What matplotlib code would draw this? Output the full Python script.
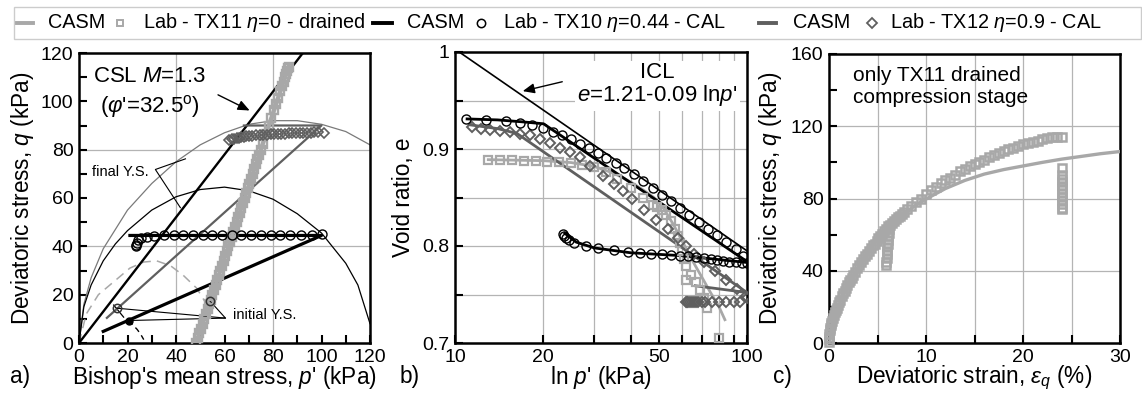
import matplotlib
matplotlib.use('Agg')
import matplotlib.pyplot as plt
from matplotlib.lines import Line2D
from matplotlib.patches import Rectangle
from matplotlib.ticker import MultipleLocator, NullFormatter

plt.rcParams['font.family'] = ['Liberation Sans', 'DejaVu Sans']
plt.rcParams['mathtext.fontset'] = 'custom'
plt.rcParams['mathtext.rm'] = 'Liberation Sans'
plt.rcParams['mathtext.it'] = 'Liberation Sans:italic'
plt.rcParams['mathtext.sf'] = 'Liberation Sans'

# ---------------- colours ----------------
C11 = '#a8a8a8'   # TX11 light grey
C10 = '#000000'   # TX10 black
C12 = '#5f5f5f'   # TX12 dark grey
CGRID = '#b4b4b4'

# ---------------- panel a data (p', q) ----------------
csl_p = [0, 100]
csl_q = [0, 130]

fys_big_p = [0, 2, 5, 10, 15, 20, 30, 40, 50, 60, 70, 80, 90, 100, 110, 120]
fys_big_q = [0, 16, 27, 39, 47, 55, 66, 75, 82, 87, 90.5, 92, 92, 90.5, 87.5, 82]

fys_small_p = [0, 2, 5, 10, 15, 20, 30, 40, 50, 60, 70, 80, 90, 100, 110, 115, 120]
fys_small_q = [0, 15, 24, 34, 41, 46.5, 55, 60.5, 63.5, 64.5, 63, 59.5, 53.5, 45.5, 33, 24, 8]

iys11_p = [0, 3, 8, 15.7, 21, 26.7, 32, 37.7, 43, 48.6, 52, 54]
iys11_q = [0, 12, 20, 26.5, 31, 33.5, 34, 32, 28, 22.6, 17, 12]

iys10_p = [20.5, 22, 24, 25.5, 26.7]
iys10_q = [9.3, 7.7, 5.6, 3.5, 1.4]

iys12_p = [14.3, 18.4]
iys12_q = [15.7, 10.7]

# CASM paths
casm11_p = [48.3, 86.4]
casm11_q = [0, 114.3]
casm10_p = [10, 100, 100, 21]
casm10_q = [4.8, 44.5, 44.5, 44.5]
casm12_p = [11.5, 100, 100, 68]
casm12_q = [10.4, 90, 90, 90]

# Lab TX11 (drained compression)
lab11a_p = [48.3, 49.0, 49.6, 50.3, 51.0, 51.6, 52.3, 53.0, 53.6, 54.3, 55.0, 55.6, 56.3,
            57.0, 57.6, 58.3, 59.0, 59.6, 60.3, 61.0, 61.6, 62.3, 63.0, 63.6, 64.3, 65.0,
            65.6, 66.3, 67.0, 67.6, 68.3, 69.0, 69.6, 70.3, 71.0, 71.6, 72.3, 73.0, 73.6,
            74.3, 75.0, 75.8, 77.1, 78.3, 79.3, 80.5, 81.3, 82.1, 83.0, 83.7, 84.4, 85.0,
            85.4, 85.9, 86.2, 86.4]
lab11a_q = [0, 2, 4, 6, 8, 10, 12, 14, 16, 18, 20, 22, 24, 26, 28, 30, 32, 34, 36, 38, 40,
            42, 44, 46, 48, 50, 52, 54, 56, 58, 60, 62, 64, 66, 68, 70, 72, 74, 76, 78, 80,
            82.5, 86.5, 90, 93, 96.5, 99, 101.5, 104.2, 106.3, 108.2, 110, 111.4, 112.7,
            113.8, 114.3]

# Lab TX10 (CAL stage)
lab10a_p = [100, 96, 91.5, 87, 83, 79, 75, 71, 67, 63, 59, 55, 51, 47, 43, 39, 35, 31,
            28, 25.5, 24.5, 24, 23.7, 23.5]
lab10a_q = [45, 44.5, 44.5, 44.5, 44.5, 44.5, 44.5, 44.5, 44.5, 44.5, 44.5, 44.5, 44.5,
            44.5, 44.5, 44.5, 44.5, 44.3, 44, 43.5, 42.5, 41.5, 40.7, 40]

# Lab TX12 (CAL stage)
lab12a_p = [62, 63, 64, 65, 66, 67, 68, 69, 70, 71.5, 73, 74.5, 76, 77.5, 79, 80.5, 82,
            83.5, 85, 86.5, 88, 89.5, 91, 92.5, 94, 95.5, 97, 98.5, 101]
lab12a_q = [84, 84.3, 84.6, 84.8, 85, 85.2, 85.4, 85.5, 85.6, 85.8, 86, 86, 86.1, 86.2,
            86.3, 86.4, 86.5, 86.5, 86.6, 86.7, 86.7, 86.8, 86.9, 87, 87, 87.1, 87.2, 87.2, 87]

init_pts_p = [15.6, 54]
init_pts_q = [14.4, 17.4]
init_fill_p = [20.5]
init_fill_q = [9.3]

# ---------------- panel b data (p', e) ----------------
icl_p = [10, 100]
icl_e = [1.003, 0.795]

casm10b_load_p = [11, 14, 17, 20.1, 100]
casm10b_load_e = [0.931, 0.930, 0.928, 0.926, 0.784]
casm10b_cal_p = [100, 80, 60, 40, 30, 26, 23.8]
casm10b_cal_e = [0.783, 0.786, 0.790, 0.793, 0.798, 0.804, 0.813]

casm12b_load_p = [11.2, 14, 16.3, 100]
casm12b_load_e = [0.925, 0.921, 0.916, 0.752]
casm12b_cal_p = [100, 66.5]
casm12b_cal_e = [0.752, 0.759]

casm11b_p = [13, 20, 25, 30, 35, 40, 45, 48, 52, 56, 60, 65, 70, 75, 80, 84]
casm11b_e = [0.889, 0.888, 0.886, 0.882, 0.875, 0.866, 0.856, 0.850, 0.838, 0.822,
             0.805, 0.785, 0.768, 0.752, 0.738, 0.724]

lab10b_load_p = [10.9, 12.8, 14.9, 16.7, 18.3, 20, 21.7, 23.3, 25, 26.8, 28.7, 30.8, 33,
                 35.5, 38, 41, 44, 47.5, 51, 55, 59, 63.5, 68.5, 73.5, 79, 85, 91.5, 97]
lab10b_load_e = [0.931, 0.930, 0.929, 0.927, 0.925, 0.922, 0.918, 0.914, 0.910, 0.905,
                 0.901, 0.896, 0.891, 0.886, 0.880, 0.874, 0.867, 0.860, 0.853, 0.846,
                 0.839, 0.832, 0.825, 0.818, 0.811, 0.804, 0.797, 0.790]
lab10b_cal_p = lab10a_p
lab10b_cal_e = [0.782, 0.782, 0.783, 0.784, 0.785, 0.786, 0.787, 0.788, 0.789, 0.790,
                0.790, 0.791, 0.792, 0.792, 0.793, 0.794, 0.796, 0.798, 0.800, 0.803,
                0.806, 0.808, 0.810, 0.812]

lab12b_load_p = [11.4, 12.3, 13.2, 14.3, 15.4, 16.7, 18.0, 19.5, 21.2, 22.9, 24.8, 26.8,
                 29.0, 32.2, 34.9, 37.5, 40.5, 44.5, 48.9, 53.8, 58, 62, 66, 71, 78, 84.5,
                 92.3, 99]
lab12b_load_e = [0.923, 0.921, 0.920, 0.919, 0.918, 0.915, 0.914, 0.910, 0.906, 0.901,
                 0.897, 0.892, 0.882, 0.872, 0.864, 0.857, 0.848, 0.837, 0.827, 0.818,
                 0.808, 0.800, 0.792, 0.784, 0.774, 0.765, 0.756, 0.748]
lab12b_cal_p = [100, 95, 90, 85, 80, 76, 72, 70, 68, 67, 66, 65, 64, 63, 62.5, 62]
lab12b_cal_e = [0.746, 0.742, 0.742, 0.742, 0.742, 0.742, 0.742, 0.742, 0.742, 0.742,
                0.742, 0.742, 0.742, 0.742, 0.742, 0.742]

lab11b_p = [13, 14.3, 15.7, 17.2, 18.9, 20.7, 22.7, 24.9, 27.3, 30, 33, 36, 40, 44, 47.5,
            49, 51, 53, 55, 56.5, 58, 59, 60, 61, 62, 62, 64.5, 67, 69, 71, 73, 80]
lab11b_e = [0.889, 0.889, 0.889, 0.888, 0.888, 0.887, 0.887, 0.886, 0.884, 0.881, 0.876,
            0.869, 0.860, 0.850, 0.842, 0.840, 0.837, 0.832, 0.826, 0.818, 0.810, 0.803,
            0.795, 0.787, 0.779, 0.765, 0.770, 0.763, 0.755, 0.746, 0.736, 0.705]

# ---------------- panel c data (eps_q, q) ----------------
casm_c_eps = [0, 0.3, 0.8, 1.5, 2.5, 3.5, 4.5, 5.3, 6, 7, 8, 9, 10, 12, 14, 16, 18, 20,
              22, 24, 26, 28, 30]
casm_c_q = [0, 9, 18.4, 27, 37, 46, 54, 60, 63.5, 68.5, 72.5, 76.5, 79.7, 85.5, 90, 93.5,
            96, 98, 100, 101.8, 103.3, 104.8, 106]

lab_c_eps = [0, 0, 0, 0.05, 0.1, 0.15, 0.2, 0.25, 0.3, 0.4, 0.5, 0.6, 0.7, 0.8, 0.9, 1.0,
             1.15, 1.3, 1.45, 1.6, 1.75, 1.9, 2.05, 2.2, 2.35, 2.5, 2.7, 2.9, 3.1, 3.3,
             3.5, 3.7, 3.9, 4.1, 4.3, 4.5, 4.7, 4.9, 5.1, 5.3, 5.5, 5.7, 5.9, 6.1, 6.3,
             6.5, 6.7, 6.9, 7.1, 7.3, 7.5, 7.7,
             8.0, 8.5, 9.0, 9.5, 10, 10.5, 11, 11.5, 12, 12.5, 13, 13.5, 14, 14.5, 15,
             15.5, 16, 16.5, 17, 17.5, 18, 18.5, 19, 19.5, 20, 20.5, 21, 21.5, 22, 22.5,
             23, 23.5, 24]
lab_c_q = [0.5, 2, 3.5, 5, 7, 8.5, 10, 11, 12, 14, 15.5, 17, 18.5, 19.5, 21, 22.5, 24, 26,
           27.5, 29, 30.5, 32, 33.5, 35, 36, 37.5, 39.5, 41.5, 43, 45, 46.5, 48, 49.5, 51,
           52.5, 54, 55, 56.5, 58, 59.5, 60.5, 62, 63, 64.5, 65.5, 66.5, 67.5, 68.5, 69.5,
           70.5, 71.5, 72.5,
           74, 76, 78, 80, 82.5, 84.5, 86.5, 88.5, 90, 91.5, 93, 95, 96.5, 98, 99, 100.3,
           101.5, 103, 104.2, 105.3, 106.3, 107.3, 108.2, 109.2, 110, 110.8, 111.4, 112,
           112.7, 113.3, 113.8, 114.2, 114.3]
unl1_eps = [6.2, 6.15, 6.1, 6.1, 6.05, 6.0, 6.0, 5.95, 5.95, 5.9, 5.9]
unl1_q = [63, 61, 59, 57, 55, 53, 51, 49, 47, 45, 43]
unl2_eps = [24, 24, 24, 24, 24, 24, 24, 24, 24, 24, 24, 24]
unl2_q = [97, 93, 91, 89, 87, 85, 83, 81, 79, 77, 75, 74]

# legend texts
leg_labels = ['CASM', 'Lab - TX11 $\\eta$=0 - drained', 'CASM',
              'Lab - TX10 $\\eta$=0.44 - CAL', 'CASM', 'Lab - TX12 $\\eta$=0.9 - CAL']

# ---------------- figure ----------------
W, H = 1142, 403
fig = plt.figure(figsize=(W / 100, H / 100), dpi=100)


def box(l, t, r, b):
    return [l / W, 1 - b / H, (r - l) / W, (b - t) / H]


axa = fig.add_axes(box(79, 53, 370, 343))
axb = fig.add_axes(box(455, 52, 747, 343))
axc = fig.add_axes(box(829, 54, 1120, 343))

for ax in (axa, axb, axc):
    for s in ax.spines.values():
        s.set_linewidth(1.8)
    ax.tick_params(which='both', direction='in', length=6, width=1.5, top=False,
                   right=False, labelsize=14, pad=4)

ms_sq = 5.5
ms_ci = 6.5
LBL = 16.3

# ---- panel a ----
axa.set_xlim(0, 120)
axa.set_ylim(0, 120)
axa.xaxis.set_major_locator(MultipleLocator(20))
axa.xaxis.set_minor_locator(MultipleLocator(10))
axa.yaxis.set_major_locator(MultipleLocator(20))
axa.yaxis.set_minor_locator(MultipleLocator(10))
for v in (40, 80):
    axa.axvline(v, color=CGRID, lw=0.9, zorder=0)
    axa.axhline(v, color=CGRID, lw=0.9, zorder=0)

axa.plot(fys_big_p, fys_big_q, color='#7a7a7a', lw=0.9, zorder=2)
axa.plot(fys_small_p, fys_small_q, color='black', lw=0.9, zorder=2)
axa.plot(iys11_p, iys11_q, color=C11, lw=1.1, ls=(0, (6, 4)), zorder=2)
axa.plot(iys10_p, iys10_q, color='black', lw=1.0, ls=(0, (4, 3)), zorder=2)
axa.plot(iys12_p, iys12_q, color='black', lw=0.9, zorder=2)
axa.plot(csl_p, csl_q, color='black', lw=1.7, zorder=3)
axa.plot(casm12_p, casm12_q, color=C12, lw=1.6, zorder=3)
axa.plot(casm10_p, casm10_q, color='black', lw=2.3, zorder=3)
axa.plot(casm11_p, casm11_q, color=C11, lw=3.2, zorder=3)
axa.plot(lab11a_p, lab11a_q, ls='none', marker='s', ms=6, mfc='none', mec=C11,
         mew=1.7, zorder=4)
axa.plot(lab12a_p, lab12a_q, ls='none', marker='D', ms=5, mfc='none', mec=C12,
         mew=1.2, zorder=4)
axa.plot(lab10a_p, lab10a_q, ls='none', marker='o', ms=ms_ci, mfc='none', mec='black',
         mew=1.0, zorder=4)
axa.plot(init_pts_p, init_pts_q, ls='none', marker='o', ms=6, mfc='none', mec='#333333',
         mew=1.1, zorder=5)
axa.plot(init_fill_p, init_fill_q, ls='none', marker='o', ms=5, mfc='black', mec='black',
         zorder=5)

axa.text(5.8, 110.4, 'CSL $M$=1.3', fontsize=16, va='center', ha='left')
axa.text(8.5, 97.8, "($\\varphi$'=32.5$^{\\mathrm{o}}$)", fontsize=16, va='center',
         ha='left')
axa.annotate('', xy=(71.4, 95.7), xytext=(56.3, 103.2),
             arrowprops=dict(arrowstyle='-|>,head_length=0.7,head_width=0.3',
                             color='black', lw=1.0))
axa.text(28.6, 70.7, 'final Y.S.', fontsize=10.5, ha='right', va='center',
         bbox=dict(facecolor='white', edgecolor='none', pad=0.5))
axa.plot([43.9, 31.5, 41.8], [76.2, 71.8, 56], color='black', lw=0.8, zorder=3)
axa.text(63.7, 11.6, 'initial Y.S.', fontsize=10.5, ha='left', va='center')
axa.plot([54, 60.4, 15.6], [17.4, 10.3, 14.4], color='black', lw=0.8, zorder=3)
axa.plot([60.4, 20.5], [10.3, 9.3], color='black', lw=0.8, zorder=3)

axa.set_xlabel("Bishop's mean stress, $p$' (kPa)", fontsize=LBL)
axa.set_ylabel('Deviatoric stress, $q$ (kPa)', fontsize=LBL)
axa.xaxis.set_label_coords(0.5, -0.072)
axa.yaxis.set_label_coords(-0.147, 0.5)

# ---- panel b ----
axb.set_xscale('log')
axb.set_xlim(10, 100)
axb.set_ylim(0.7, 1.0)
axb.set_xticks([10, 20, 50, 100])
axb.set_xticklabels(['10', '20', '50', '100'])
axb.set_xticks([30, 40, 60, 70, 80, 90], minor=True)
axb.xaxis.set_minor_formatter(NullFormatter())
axb.set_yticks([0.7, 0.8, 0.9, 1.0])
axb.set_yticklabels(['0.7', '0.8', '0.9', '1'])
axb.set_yticks([0.75, 0.85, 0.95], minor=True)
for v in (20, 30, 40, 50, 60, 70, 80, 90):
    axb.axvline(v, color=CGRID, lw=0.9, zorder=0)
for v in (0.75, 0.8, 0.85, 0.9, 0.95):
    axb.axhline(v, color=CGRID, lw=0.9, zorder=0)

axb.plot(icl_p, icl_e, color='black', lw=1.2, zorder=3)
axb.plot(casm11b_p, casm11b_e, color=C11, lw=2.0, zorder=3)
axb.plot(casm12b_load_p, casm12b_load_e, color=C12, lw=2.0, zorder=3)
axb.plot(casm12b_cal_p, casm12b_cal_e, color=C12, lw=2.0, zorder=3)
axb.plot(casm10b_load_p, casm10b_load_e, color='black', lw=2.0, zorder=3)
axb.plot(casm10b_cal_p, casm10b_cal_e, color='black', lw=2.0, zorder=3)
axb.plot(lab11b_p, lab11b_e, ls='none', marker='s', ms=ms_sq, mfc='none', mec=C11,
         mew=1.6, zorder=4)
axb.plot(lab12b_load_p, lab12b_load_e, ls='none', marker='D', ms=5, mfc='none', mec=C12,
         mew=1.4, zorder=4)
axb.plot(lab12b_cal_p, lab12b_cal_e, ls='none', marker='D', ms=5, mfc='none', mec=C12,
         mew=1.4, zorder=4)
axb.plot(lab10b_load_p, lab10b_load_e, ls='none', marker='o', ms=ms_ci, mfc='none',
         mec='black', mew=1.0, zorder=4)
axb.plot(lab10b_cal_p, lab10b_cal_e, ls='none', marker='o', ms=ms_ci, mfc='none',
         mec='black', mew=1.0, zorder=4)

axb.text(49.3, 0.966, "ICL\n$e$=1.21-0.09 ln$p$'", fontsize=16, ha='center', va='center',
         linespacing=1.05, zorder=5,
         bbox=dict(facecolor='white', edgecolor='none', pad=2))
axb.annotate('', xy=(16.7, 0.959), xytext=(23.8, 0.970),
             arrowprops=dict(arrowstyle='-|>,head_length=0.7,head_width=0.3',
                             color='black', lw=1.0))
axb.set_xlabel("ln $p$' (kPa)", fontsize=LBL)
axb.set_ylabel('Void ratio, e', fontsize=LBL)
axb.xaxis.set_label_coords(0.5, -0.072)
axb.yaxis.set_label_coords(-0.137, 0.5)

# ---- panel c ----
axc.set_xlim(0, 30)
axc.set_ylim(0, 160)
axc.xaxis.set_major_locator(MultipleLocator(10))
axc.xaxis.set_minor_locator(MultipleLocator(5))
axc.yaxis.set_major_locator(MultipleLocator(40))
axc.yaxis.set_minor_locator(MultipleLocator(20))
for v in (5, 10, 15, 20, 25):
    axc.axvline(v, color=CGRID, lw=0.9, zorder=0)
for v in (40, 80, 120):
    axc.axhline(v, color=CGRID, lw=0.9, zorder=0)
axc.plot(casm_c_eps, casm_c_q, color=C11, lw=2.4, zorder=3)
for xs, ys in ((lab_c_eps, lab_c_q), (unl1_eps, unl1_q), (unl2_eps, unl2_q)):
    axc.plot(xs, ys, ls='none', marker='s', ms=6, mfc='none', mec=C11, mew=1.8,
             zorder=4, clip_on=False)
axc.text(2.5, 142, 'only TX11 drained\ncompression stage', fontsize=15, ha='left',
         va='center', linespacing=1.15)
axc.set_xlabel('Deviatoric strain, $\\varepsilon_q$ (%)', fontsize=LBL)
axc.set_ylabel('Deviatoric stress, $q$ (kPa)', fontsize=LBL)
axc.xaxis.set_label_coords(0.5, -0.072)
axc.yaxis.set_label_coords(-0.155, 0.5)

# panel letters
for x, s in ((10, 'a)'), (400, 'b)'), (773, 'c)')):
    fig.text(x / W, 1 - 377 / H, s, fontsize=LBL, ha='left', va='center')

# ---- legend (laid out by hand in pixel positions) ----
ly = 1 - 23 / H
fig.add_artist(Rectangle((14 / W, 1 - 39 / H), 1127 / W, 32 / H, transform=fig.transFigure,
                         facecolor='white', edgecolor='#cccccc', lw=1.0))
legend_handles = [
    ('line', 17, 33, dict(color=C11, lw=2.8)),
    ('mark', 120, None, dict(marker='s', ms=5, mfc='none', mec=C11, mew=1.4)),
    ('line', 373, 392, dict(color='black', lw=2.8)),
    ('mark', 481, None, dict(marker='o', ms=6, mfc='none', mec='black', mew=1.1)),
    ('line', 759, 776, dict(color=C12, lw=2.8)),
    ('mark', 872, None, dict(marker='D', ms=5, mfc='none', mec=C12, mew=1.3)),
]
text_x = [48, 143, 407, 503, 793, 890]
for (kind, x0, x1, st), tx, lab in zip(legend_handles, text_x, leg_labels):
    if kind == 'line':
        fig.add_artist(Line2D([x0 / W, x1 / W], [ly, ly], transform=fig.transFigure, **st))
    else:
        fig.add_artist(Line2D([x0 / W], [ly], ls='none', transform=fig.transFigure, **st))
    fig.text(tx / W, ly, lab, fontsize=14.3, ha='left', va='center')

fig.savefig('out.png', dpi=100)
